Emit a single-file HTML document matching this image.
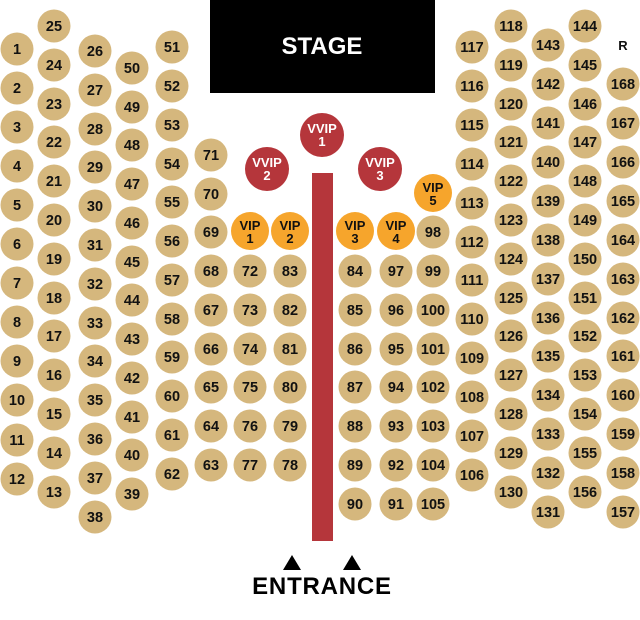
<!DOCTYPE html>
<html><head><meta charset="utf-8"><style>
html,body{margin:0;padding:0;background:#fff;}
svg{display:block;}
.s circle{fill:#d5b77d;}
text{font-family:"Liberation Sans",Arial,sans-serif;font-weight:bold;text-anchor:middle;}
.s text{font-size:14.5px;fill:#111;}
.v text{font-size:13px;fill:#fff;}
.o text{font-size:13px;fill:#111;}
</style></head><body>
<svg width="640" height="620" viewBox="0 0 640 620" xmlns="http://www.w3.org/2000/svg">
<rect x="210" y="0" width="225" height="93" fill="#000"/>
<text x="322" y="54" font-size="24" fill="#fff">STAGE</text>
<rect x="312" y="173" width="21" height="368" fill="#b5363b"/>
<polygon points="292,555 283,570 301,570" fill="#000"/>
<polygon points="352,555 343,570 361,570" fill="#000"/>
<text x="322" y="594" font-size="24" letter-spacing="0.8">ENTRANCE</text>
<text x="623" y="50" font-size="13" fill="#111">R</text>

<g class="v">
<circle cx="322" cy="135" r="22" fill="#b5363b"/><text x="322" y="133">VVIP</text><text x="322" y="146">1</text>
<circle cx="267" cy="169" r="22" fill="#b5363b"/><text x="267" y="167">VVIP</text><text x="267" y="180">2</text>
<circle cx="380" cy="169" r="22" fill="#b5363b"/><text x="380" y="167">VVIP</text><text x="380" y="180">3</text>
</g>
<g class="o" fill="#f6a52c">
<circle cx="250" cy="231" r="19" fill="#f6a52c"/><text x="250" y="230">VIP</text><text x="250" y="243">1</text>
<circle cx="290" cy="231" r="19" fill="#f6a52c"/><text x="290" y="230">VIP</text><text x="290" y="243">2</text>
<circle cx="355" cy="231" r="19" fill="#f6a52c"/><text x="355" y="230">VIP</text><text x="355" y="243">3</text>
<circle cx="396" cy="231" r="19" fill="#f6a52c"/><text x="396" y="230">VIP</text><text x="396" y="243">4</text>
<circle cx="433" cy="193" r="19" fill="#f6a52c"/><text x="433" y="192">VIP</text><text x="433" y="205">5</text>
</g>

<g class="s">
<!-- col A x=17 -->
<circle cx="17" cy="49" r="16.5"/><text x="17" y="54">1</text>
<circle cx="17" cy="88" r="16.5"/><text x="17" y="93">2</text>
<circle cx="17" cy="127" r="16.5"/><text x="17" y="132">3</text>
<circle cx="17" cy="166" r="16.5"/><text x="17" y="171">4</text>
<circle cx="17" cy="205" r="16.5"/><text x="17" y="210">5</text>
<circle cx="17" cy="244" r="16.5"/><text x="17" y="249">6</text>
<circle cx="17" cy="283" r="16.5"/><text x="17" y="288">7</text>
<circle cx="17" cy="322" r="16.5"/><text x="17" y="327">8</text>
<circle cx="17" cy="361" r="16.5"/><text x="17" y="366">9</text>
<circle cx="17" cy="400" r="16.5"/><text x="17" y="405">10</text>
<circle cx="17" cy="440" r="16.5"/><text x="17" y="445">11</text>
<circle cx="17" cy="479" r="16.5"/><text x="17" y="484">12</text>
<!-- col B x=54 -->
<circle cx="54" cy="26" r="16.5"/><text x="54" y="31">25</text>
<circle cx="54" cy="65" r="16.5"/><text x="54" y="70">24</text>
<circle cx="54" cy="104" r="16.5"/><text x="54" y="109">23</text>
<circle cx="54" cy="142" r="16.5"/><text x="54" y="147">22</text>
<circle cx="54" cy="181" r="16.5"/><text x="54" y="186">21</text>
<circle cx="54" cy="220" r="16.5"/><text x="54" y="225">20</text>
<circle cx="54" cy="259" r="16.5"/><text x="54" y="264">19</text>
<circle cx="54" cy="298" r="16.5"/><text x="54" y="303">18</text>
<circle cx="54" cy="336" r="16.5"/><text x="54" y="341">17</text>
<circle cx="54" cy="375" r="16.5"/><text x="54" y="380">16</text>
<circle cx="54" cy="414" r="16.5"/><text x="54" y="419">15</text>
<circle cx="54" cy="453" r="16.5"/><text x="54" y="458">14</text>
<circle cx="54" cy="492" r="16.5"/><text x="54" y="497">13</text>
<!-- col C x=95 -->
<circle cx="95" cy="51" r="16.5"/><text x="95" y="56">26</text>
<circle cx="95" cy="90" r="16.5"/><text x="95" y="95">27</text>
<circle cx="95" cy="129" r="16.5"/><text x="95" y="134">28</text>
<circle cx="95" cy="167" r="16.5"/><text x="95" y="172">29</text>
<circle cx="95" cy="206" r="16.5"/><text x="95" y="211">30</text>
<circle cx="95" cy="245" r="16.5"/><text x="95" y="250">31</text>
<circle cx="95" cy="284" r="16.5"/><text x="95" y="289">32</text>
<circle cx="95" cy="323" r="16.5"/><text x="95" y="328">33</text>
<circle cx="95" cy="361" r="16.5"/><text x="95" y="366">34</text>
<circle cx="95" cy="400" r="16.5"/><text x="95" y="405">35</text>
<circle cx="95" cy="439" r="16.5"/><text x="95" y="444">36</text>
<circle cx="95" cy="478" r="16.5"/><text x="95" y="483">37</text>
<circle cx="95" cy="517" r="16.5"/><text x="95" y="522">38</text>
<!-- col D x=132 -->
<circle cx="132" cy="68" r="16.5"/><text x="132" y="73">50</text>
<circle cx="132" cy="107" r="16.5"/><text x="132" y="112">49</text>
<circle cx="132" cy="145" r="16.5"/><text x="132" y="150">48</text>
<circle cx="132" cy="184" r="16.5"/><text x="132" y="189">47</text>
<circle cx="132" cy="223" r="16.5"/><text x="132" y="228">46</text>
<circle cx="132" cy="262" r="16.5"/><text x="132" y="267">45</text>
<circle cx="132" cy="300" r="16.5"/><text x="132" y="305">44</text>
<circle cx="132" cy="339" r="16.5"/><text x="132" y="344">43</text>
<circle cx="132" cy="378" r="16.5"/><text x="132" y="383">42</text>
<circle cx="132" cy="417" r="16.5"/><text x="132" y="422">41</text>
<circle cx="132" cy="455" r="16.5"/><text x="132" y="460">40</text>
<circle cx="132" cy="494" r="16.5"/><text x="132" y="499">39</text>
<!-- col E x=172 -->
<circle cx="172" cy="47" r="16.5"/><text x="172" y="52">51</text>
<circle cx="172" cy="86" r="16.5"/><text x="172" y="91">52</text>
<circle cx="172" cy="125" r="16.5"/><text x="172" y="130">53</text>
<circle cx="172" cy="164" r="16.5"/><text x="172" y="169">54</text>
<circle cx="172" cy="202" r="16.5"/><text x="172" y="207">55</text>
<circle cx="172" cy="241" r="16.5"/><text x="172" y="246">56</text>
<circle cx="172" cy="280" r="16.5"/><text x="172" y="285">57</text>
<circle cx="172" cy="319" r="16.5"/><text x="172" y="324">58</text>
<circle cx="172" cy="357" r="16.5"/><text x="172" y="362">59</text>
<circle cx="172" cy="396" r="16.5"/><text x="172" y="401">60</text>
<circle cx="172" cy="435" r="16.5"/><text x="172" y="440">61</text>
<circle cx="172" cy="474" r="16.5"/><text x="172" y="479">62</text>
<!-- col F x=211 -->
<circle cx="211" cy="155" r="16.5"/><text x="211" y="160">71</text>
<circle cx="211" cy="194" r="16.5"/><text x="211" y="199">70</text>
<circle cx="211" cy="232" r="16.5"/><text x="211" y="237">69</text>
<circle cx="211" cy="271" r="16.5"/><text x="211" y="276">68</text>
<circle cx="211" cy="310" r="16.5"/><text x="211" y="315">67</text>
<circle cx="211" cy="349" r="16.5"/><text x="211" y="354">66</text>
<circle cx="211" cy="387" r="16.5"/><text x="211" y="392">65</text>
<circle cx="211" cy="426" r="16.5"/><text x="211" y="431">64</text>
<circle cx="211" cy="465" r="16.5"/><text x="211" y="470">63</text>
<!-- col G x=250 -->
<circle cx="250" cy="271" r="16.5"/><text x="250" y="276">72</text>
<circle cx="250" cy="310" r="16.5"/><text x="250" y="315">73</text>
<circle cx="250" cy="349" r="16.5"/><text x="250" y="354">74</text>
<circle cx="250" cy="387" r="16.5"/><text x="250" y="392">75</text>
<circle cx="250" cy="426" r="16.5"/><text x="250" y="431">76</text>
<circle cx="250" cy="465" r="16.5"/><text x="250" y="470">77</text>
<!-- col H x=290 -->
<circle cx="290" cy="271" r="16.5"/><text x="290" y="276">83</text>
<circle cx="290" cy="310" r="16.5"/><text x="290" y="315">82</text>
<circle cx="290" cy="349" r="16.5"/><text x="290" y="354">81</text>
<circle cx="290" cy="387" r="16.5"/><text x="290" y="392">80</text>
<circle cx="290" cy="426" r="16.5"/><text x="290" y="431">79</text>
<circle cx="290" cy="465" r="16.5"/><text x="290" y="470">78</text>
<!-- col I x=355 -->
<circle cx="355" cy="271" r="16.5"/><text x="355" y="276">84</text>
<circle cx="355" cy="310" r="16.5"/><text x="355" y="315">85</text>
<circle cx="355" cy="349" r="16.5"/><text x="355" y="354">86</text>
<circle cx="355" cy="387" r="16.5"/><text x="355" y="392">87</text>
<circle cx="355" cy="426" r="16.5"/><text x="355" y="431">88</text>
<circle cx="355" cy="465" r="16.5"/><text x="355" y="470">89</text>
<circle cx="355" cy="504" r="16.5"/><text x="355" y="509">90</text>
<!-- col J x=396 -->
<circle cx="396" cy="271" r="16.5"/><text x="396" y="276">97</text>
<circle cx="396" cy="310" r="16.5"/><text x="396" y="315">96</text>
<circle cx="396" cy="349" r="16.5"/><text x="396" y="354">95</text>
<circle cx="396" cy="387" r="16.5"/><text x="396" y="392">94</text>
<circle cx="396" cy="426" r="16.5"/><text x="396" y="431">93</text>
<circle cx="396" cy="465" r="16.5"/><text x="396" y="470">92</text>
<circle cx="396" cy="504" r="16.5"/><text x="396" y="509">91</text>
<!-- col K x=433 -->
<circle cx="433" cy="232" r="16.5"/><text x="433" y="237">98</text>
<circle cx="433" cy="271" r="16.5"/><text x="433" y="276">99</text>
<circle cx="433" cy="310" r="16.5"/><text x="433" y="315">100</text>
<circle cx="433" cy="349" r="16.5"/><text x="433" y="354">101</text>
<circle cx="433" cy="387" r="16.5"/><text x="433" y="392">102</text>
<circle cx="433" cy="426" r="16.5"/><text x="433" y="431">103</text>
<circle cx="433" cy="465" r="16.5"/><text x="433" y="470">104</text>
<circle cx="433" cy="504" r="16.5"/><text x="433" y="509">105</text>
<!-- col L x=472 -->
<circle cx="472" cy="47" r="16.5"/><text x="472" y="52">117</text>
<circle cx="472" cy="86" r="16.5"/><text x="472" y="91">116</text>
<circle cx="472" cy="125" r="16.5"/><text x="472" y="130">115</text>
<circle cx="472" cy="164" r="16.5"/><text x="472" y="169">114</text>
<circle cx="472" cy="203" r="16.5"/><text x="472" y="208">113</text>
<circle cx="472" cy="242" r="16.5"/><text x="472" y="247">112</text>
<circle cx="472" cy="280" r="16.5"/><text x="472" y="285">111</text>
<circle cx="472" cy="319" r="16.5"/><text x="472" y="324">110</text>
<circle cx="472" cy="358" r="16.5"/><text x="472" y="363">109</text>
<circle cx="472" cy="397" r="16.5"/><text x="472" y="402">108</text>
<circle cx="472" cy="436" r="16.5"/><text x="472" y="441">107</text>
<circle cx="472" cy="475" r="16.5"/><text x="472" y="480">106</text>
<!-- col M x=511 -->
<circle cx="511" cy="26" r="16.5"/><text x="511" y="31">118</text>
<circle cx="511" cy="65" r="16.5"/><text x="511" y="70">119</text>
<circle cx="511" cy="104" r="16.5"/><text x="511" y="109">120</text>
<circle cx="511" cy="142" r="16.5"/><text x="511" y="147">121</text>
<circle cx="511" cy="181" r="16.5"/><text x="511" y="186">122</text>
<circle cx="511" cy="220" r="16.5"/><text x="511" y="225">123</text>
<circle cx="511" cy="259" r="16.5"/><text x="511" y="264">124</text>
<circle cx="511" cy="298" r="16.5"/><text x="511" y="303">125</text>
<circle cx="511" cy="336" r="16.5"/><text x="511" y="341">126</text>
<circle cx="511" cy="375" r="16.5"/><text x="511" y="380">127</text>
<circle cx="511" cy="414" r="16.5"/><text x="511" y="419">128</text>
<circle cx="511" cy="453" r="16.5"/><text x="511" y="458">129</text>
<circle cx="511" cy="492" r="16.5"/><text x="511" y="497">130</text>
<!-- col N x=548 -->
<circle cx="548" cy="45" r="16.5"/><text x="548" y="50">143</text>
<circle cx="548" cy="84" r="16.5"/><text x="548" y="89">142</text>
<circle cx="548" cy="123" r="16.5"/><text x="548" y="128">141</text>
<circle cx="548" cy="162" r="16.5"/><text x="548" y="167">140</text>
<circle cx="548" cy="201" r="16.5"/><text x="548" y="206">139</text>
<circle cx="548" cy="240" r="16.5"/><text x="548" y="245">138</text>
<circle cx="548" cy="279" r="16.5"/><text x="548" y="284">137</text>
<circle cx="548" cy="318" r="16.5"/><text x="548" y="323">136</text>
<circle cx="548" cy="356" r="16.5"/><text x="548" y="361">135</text>
<circle cx="548" cy="395" r="16.5"/><text x="548" y="400">134</text>
<circle cx="548" cy="434" r="16.5"/><text x="548" y="439">133</text>
<circle cx="548" cy="473" r="16.5"/><text x="548" y="478">132</text>
<circle cx="548" cy="512" r="16.5"/><text x="548" y="517">131</text>
<!-- col O x=585 -->
<circle cx="585" cy="26" r="16.5"/><text x="585" y="31">144</text>
<circle cx="585" cy="65" r="16.5"/><text x="585" y="70">145</text>
<circle cx="585" cy="104" r="16.5"/><text x="585" y="109">146</text>
<circle cx="585" cy="142" r="16.5"/><text x="585" y="147">147</text>
<circle cx="585" cy="181" r="16.5"/><text x="585" y="186">148</text>
<circle cx="585" cy="220" r="16.5"/><text x="585" y="225">149</text>
<circle cx="585" cy="259" r="16.5"/><text x="585" y="264">150</text>
<circle cx="585" cy="298" r="16.5"/><text x="585" y="303">151</text>
<circle cx="585" cy="336" r="16.5"/><text x="585" y="341">152</text>
<circle cx="585" cy="375" r="16.5"/><text x="585" y="380">153</text>
<circle cx="585" cy="414" r="16.5"/><text x="585" y="419">154</text>
<circle cx="585" cy="453" r="16.5"/><text x="585" y="458">155</text>
<circle cx="585" cy="492" r="16.5"/><text x="585" y="497">156</text>
<!-- col P x=623 -->
<circle cx="623" cy="84" r="16.5"/><text x="623" y="89">168</text>
<circle cx="623" cy="123" r="16.5"/><text x="623" y="128">167</text>
<circle cx="623" cy="162" r="16.5"/><text x="623" y="167">166</text>
<circle cx="623" cy="201" r="16.5"/><text x="623" y="206">165</text>
<circle cx="623" cy="240" r="16.5"/><text x="623" y="245">164</text>
<circle cx="623" cy="279" r="16.5"/><text x="623" y="284">163</text>
<circle cx="623" cy="318" r="16.5"/><text x="623" y="323">162</text>
<circle cx="623" cy="356" r="16.5"/><text x="623" y="361">161</text>
<circle cx="623" cy="395" r="16.5"/><text x="623" y="400">160</text>
<circle cx="623" cy="434" r="16.5"/><text x="623" y="439">159</text>
<circle cx="623" cy="473" r="16.5"/><text x="623" y="478">158</text>
<circle cx="623" cy="512" r="16.5"/><text x="623" y="517">157</text>
</g>
</svg>
</body></html>
